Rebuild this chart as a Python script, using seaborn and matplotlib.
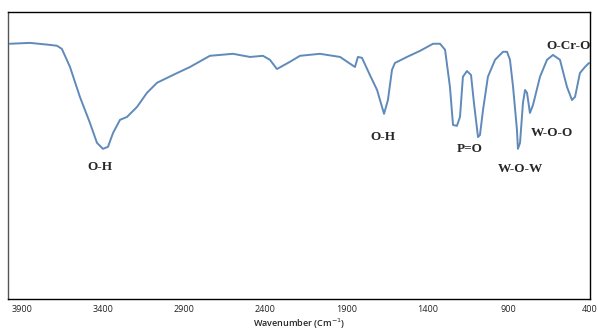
import numpy as np
import pandas as pd
import matplotlib
matplotlib.use("Agg")
import matplotlib.pyplot as plt
import seaborn as sns

# FTIR spectrum, values
wavenumber = [3974, 3851, 3727, 3684, 3654, 3604, 3543, 3481, 3438, 3401,
              3370, 3339, 3296, 3253, 3191, 3130, 3068, 2970, 2865, 2742,
              2600, 2495, 2415, 2372, 2329, 2249, 2187, 2064, 1940, 1848,
              1830, 1805, 1756, 1712, 1694, 1669, 1645, 1620, 1602, 1528,
              1448, 1367, 1324, 1293, 1263, 1244, 1220, 1201, 1183, 1158,
              1133, 1115, 1090, 1078, 1059, 1029, 985, 936, 911, 893,
              874, 850, 844, 831, 813, 800, 788, 770, 751, 708,
              665, 628, 585, 542, 511, 492, 462, 431, 406]
transmittance = [88.9, 89.2, 88.5, 88.2, 87.1, 80.8, 70.4, 61.3, 54.4, 52.3,
                 53.0, 57.8, 62.4, 63.4, 66.9, 71.8, 75.3, 78.0, 80.8, 84.7,
                 85.4, 84.3, 84.7, 83.3, 80.1, 82.6, 84.7, 85.4, 84.3, 80.8,
                 84.3, 84.0, 78.0, 72.8, 69.3, 64.5, 69.3, 79.8, 82.2, 84.3,
                 86.4, 88.9, 88.9, 86.8, 73.9, 60.6, 60.3, 63.4, 77.4, 79.4,
                 78.0, 68.3, 56.4, 57.1, 65.9, 77.4, 83.3, 86.1, 86.1, 83.3,
                 73.9, 58.9, 52.3, 54.4, 68.3, 72.8, 71.8, 64.8, 67.6, 77.4,
                 83.3, 85.0, 83.3, 73.9, 69.3, 70.4, 78.7, 80.8, 82.2]

band_labels = ["O-H", "O-H", "P=O", "W-O-W", "W-O-O", "O-Cr-O"]
band_x = [3420, 1676, 1139, 831, 634, 535]
band_y = [46.0, 56.4, 52.3, 45.3, 57.8, 88.2]

xticks = [3900, 3400, 2900, 2400, 1900, 1400, 900, 400]

df = pd.DataFrame({"Wavenumber": wavenumber, "T": transmittance})

sns.set_style("white")
fig = plt.figure(figsize=(5.98, 3.30), dpi=100)
ax = fig.add_axes([0.0134, 0.094, 0.9732, 0.870])

sns.lineplot(data=df, x="Wavenumber", y="T", ax=ax, color="#5f8ab9",
             linewidth=1.4, sort=False)

ax.set_xlim(3986, 400)
ax.set_ylim(0, 100)
ax.set_xticks(xticks)
ax.set_xticklabels([str(t) for t in xticks], fontsize=6.5, family="Open Sans", color="#222222")
ax.tick_params(axis="x", length=0, pad=4)
ax.set_yticks([])
ax.set_ylabel("")
ax.set_xlabel("Wavenumber (Cm$^{-1}$)", fontsize=6.5, family="Open Sans",
              fontweight="semibold", labelpad=2)

for s in ax.spines.values():
    s.set_color("black")
    s.set_linewidth(1.0)
ax.spines["left"].set_color("#555555")

for lab, x, y in zip(band_labels, band_x, band_y):
    ax.text(x, y, lab, ha="center", va="center", fontsize=9.5,
            family="Liberation Serif", fontweight="bold", clip_on=False)

fig.savefig("out.png", dpi=100)
